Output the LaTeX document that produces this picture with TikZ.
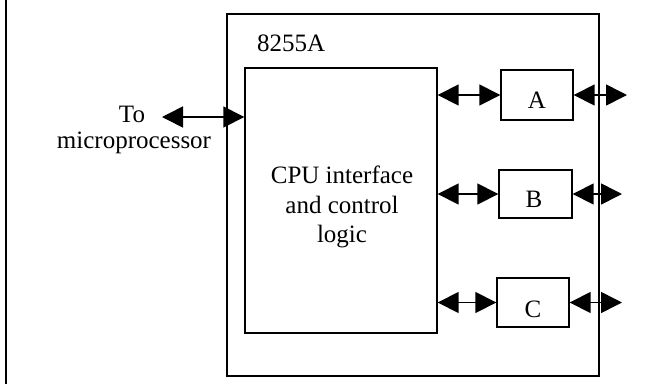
\documentclass[tikz,border=0pt]{standalone}
\usepackage{fontspec}
\setmainfont{Liberation Serif}
\usetikzlibrary{arrows.meta}
\begin{document}
\begin{tikzpicture}[x=1pt,y=-1pt,
  box/.style={draw,line width=1.4pt,inner sep=0pt},
  lbl/.style={font=\fontsize{25}{30}\selectfont,inner sep=0pt,anchor=base},
  bus/.style={line width=1.6pt,{Triangle[length=21pt,width=21pt]}-{Triangle[length=21pt,width=21pt]}}]
\useasboundingbox (0,0) rectangle (657,384);
\fill[white] (0,0) rectangle (657,384);
\draw[line width=2.2pt] (6,0) -- (6,384);
\node[box, minimum width=372pt, minimum height=362pt] (chip) at (413,195) {};
\node[box, minimum width=192pt, minimum height=265pt] (cpu) at (341,200.5) {};
\node[box, minimum width=72pt, minimum height=50pt] (A) at (537,95) {};
\node[box, minimum width=73pt, minimum height=48pt] (B) at (535.5,194) {};
\node[box, minimum width=72pt, minimum height=49pt] (C) at (533,302.5) {};
% labels
\node[lbl, anchor=base west] (chipname) at (257,51) {8255A};
\node[lbl] (to) at (132,122) {To};
\node[lbl] (micro) at (134,148) {microprocessor};
\node[lbl] (cpu1) at (342,183) {CPU interface};
\node[lbl] (cpu2) at (342,213) {and control};
\node[lbl] (cpu3) at (342,242) {logic};
\node[lbl] (Alab) at (537,108) {A};
\node[lbl] (Blab) at (534,207) {B};
\node[lbl] (Clab) at (533,317) {C};
% connectors
\coordinate (mp) at (162,117);
\draw[bus] (mp) -- (cpu.west |- mp);
\draw[bus] (cpu.east |- A.west) -- (A.west);
\draw[bus] (cpu.east |- B.west) -- (B.west);
\draw[bus] (cpu.east |- C.west) -- (C.west);
\coordinate (Aout) at (627,95);
\coordinate (Bout) at (622,194);
\coordinate (Cout) at (622,302.5);
\draw[bus] (A.east) -- (Aout);
\draw[bus] (B.east) -- (Bout);
\draw[bus] (C.east) -- (Cout);
\end{tikzpicture}
\end{document}
